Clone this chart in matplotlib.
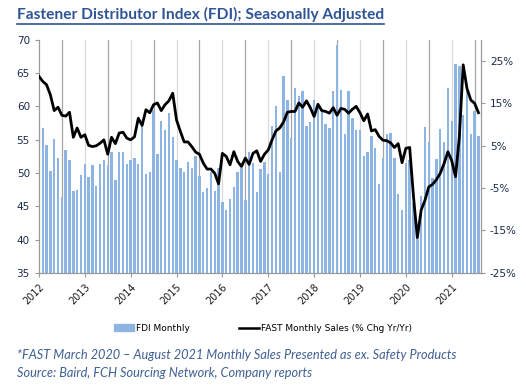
import matplotlib
matplotlib.use('Agg')
import matplotlib.pyplot as plt
from matplotlib.lines import Line2D
from matplotlib.patches import Patch
import numpy as np

# FDI monthly index, Jan 2012 - Aug 2021
fdi_monthly = [
    51.8, 56.7, 54.2, 50.3, 55.1, 52.2, 46.4, 53.4, 52.0, 47.3, 47.4, 49.7,  # 2012
    51.4, 49.4, 51.2, 48.1, 51.4, 52.0, 51.2, 53.2, 49.0, 53.2, 53.2, 51.3,  # 2013
    51.9, 52.2, 51.4, 57.0, 49.8, 50.2, 59.5, 52.9, 57.8, 56.4, 59.0, 55.4,  # 2014
    51.9, 50.7, 50.2, 51.7, 50.8, 52.6, 49.6, 47.2, 47.8, 50.1, 47.3, 50.7,  # 2015
    45.6, 44.5, 46.1, 47.9, 50.1, 50.7, 46.0, 53.2, 51.5, 47.1, 50.6, 51.6,  # 2016
    49.9, 57.0, 60.1, 50.2, 64.6, 60.9, 55.2, 62.8, 61.6, 62.3, 57.0, 57.6,  # 2017
    60.9, 60.4, 59.2, 57.4, 56.7, 62.3, 69.3, 62.5, 55.8, 62.3, 58.3, 56.5,  # 2018
    56.5, 52.6, 53.1, 55.6, 53.8, 48.4, 52.3, 55.9, 56.0, 52.2, 46.8, 44.5,  # 2019
    51.5, 52.0, 45.5, 40.1, 46.5, 56.9, 54.7, 49.3, 52.1, 56.6, 54.6, 62.7,  # 2020
    57.8, 66.3, 66.1, 58.7, 62.5, 55.8, 59.3, 55.5,                          # 2021
]

# FAST monthly sales, % change yr/yr
fast_sales = [
    21.4, 20.2, 19.4, 17.0, 13.3, 14.1, 12.2, 12.0, 12.9, 7.0, 9.2, 7.0,
    7.6, 5.1, 4.8, 5.0, 5.6, 6.4, 3.0, 7.0, 5.5, 8.0, 8.2, 6.8,
    6.4, 7.1, 11.5, 9.8, 13.5, 12.8, 14.7, 15.1, 13.3, 14.7, 15.6, 17.4,
    11.1, 8.4, 5.9, 5.9, 4.8, 3.5, 3.0, 0.9, -0.5, -0.5, -1.5, -4.0,
    3.2, 2.5, 0.5, 3.6, 1.3, 0.1, 2.1, 0.6, 3.2, 3.8, 1.3, 3.0,
    4.0, 6.4, 8.5, 9.2, 10.6, 12.9, 13.1, 13.1, 15.1, 14.1, 15.6, 14.0,
    11.9, 14.8, 13.3, 13.1, 12.7, 14.0, 12.2, 13.8, 13.6, 12.7, 13.6, 14.3,
    12.8, 10.9, 12.5, 8.5, 8.8, 7.2, 6.3, 6.2, 5.7, 4.6, 5.5, 1.0,
    4.4, 4.6, -7.0, -16.7, -10.2, -7.9, -4.7, -4.1, -3.0, -1.5, 0.8, 3.6,
    1.5, -2.3, 7.1, 24.1, 18.5, 15.8, 15.0, 12.8,
]

years = [str(y) for y in range(2012, 2022)]

navy = '#1B2A47'
months = np.arange(len(fdi_monthly))

fig = plt.figure(figsize=(5.26, 3.87), dpi=100)
ax = fig.add_axes([0.074, 0.295, 0.840, 0.602])

# half-year gridlines: mid-year darker, year lighter
for m in range(6, len(fdi_monthly) + 1, 12):
    ax.axvline(m, color='#A6A6A6', lw=0.9, zorder=0)
for m in range(12, len(fdi_monthly) + 1, 12):
    ax.axvline(m, color='#D9D9D9', lw=0.9, zorder=0)

ax.bar(months, fdi_monthly, width=0.62, color='#8EB4E3', zorder=1)
ax.set_ylim(35, 70)
ax.set_xlim(0, 115.6)
ax.set_yticks(range(35, 71, 5))
ax.tick_params(axis='y', labelsize=7.5, labelcolor=navy, length=3, color='#999999')
ax.set_xticks(range(0, len(fdi_monthly), 12))
ax.set_xticklabels(years, rotation=45, ha='right', rotation_mode='anchor',
                   fontsize=7, color='#1A1A1A')
ax.tick_params(axis='x', length=3, color='#999999')
ax.spines['top'].set_visible(False)
for s in ['left', 'bottom', 'right']:
    ax.spines[s].set_color('#999999')

ax2 = ax.twinx()
ax2.plot(months, fast_sales, color='black', lw=2, solid_joinstyle='round', zorder=3)
ax2.set_ylim(-25, 30)
ax2.set_yticks(range(-25, 26, 10))
ax2.set_yticklabels([f'{v}%' for v in range(-25, 26, 10)])
ax2.tick_params(axis='y', labelsize=7.5, labelcolor=navy, length=3, color='#999999')
ax2.spines['top'].set_visible(False)
for s in ['left', 'bottom', 'right']:
    ax2.spines[s].set_color('#999999')

handles = [Patch(color='#8EB4E3'), Line2D([], [], color='black', lw=1.8)]
labels = ['FDI Monthly', 'FAST Monthly Sales (% Chg Yr/Yr)']
fig.legend(handles, labels, loc='center', bbox_to_anchor=(0.5, 0.152), ncol=2,
           frameon=False, fontsize=6.5, columnspacing=5.5, handlelength=2.2,
           handletextpad=0.2)

title = fig.text(0.032, 0.962, 'Fastener Distributor Index (FDI); Seasonally Adjusted',
                 fontsize=11.2, fontweight='bold', color='#2F5496', family='Lato',
                 va='center')
fig.canvas.draw()
bb = title.get_window_extent().transformed(fig.transFigure.inverted())
fig.add_artist(Line2D([bb.x0, bb.x1], [bb.y0 - 0.004, bb.y0 - 0.004],
                      color='#2F5496', lw=1.2, transform=fig.transFigure))

note_color = '#3F5F94'
fig.text(0.032, 0.083, '*FAST March 2020 \u2013 August 2021 Monthly Sales Presented as ex. Safety Products',
         fontsize=9.2, style='italic', color=note_color, family='Lato', va='center')
fig.text(0.032, 0.036, 'Source: Baird, FCH Sourcing Network, Company reports',
         fontsize=9.2, style='italic', color=note_color, family='Lato', va='center')

fig.savefig('out.png', dpi=100)
